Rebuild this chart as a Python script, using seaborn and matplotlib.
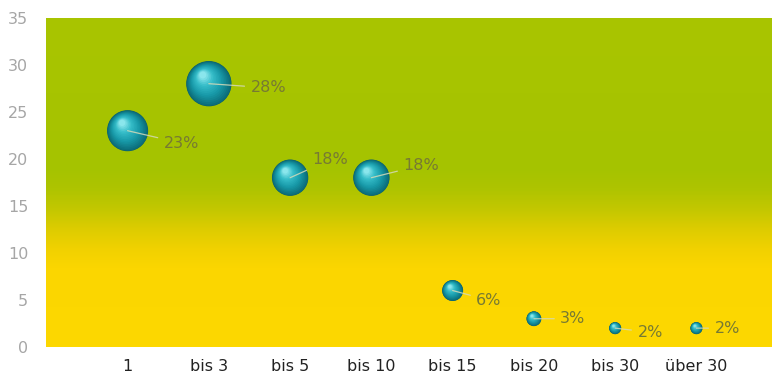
import numpy as np
import pandas as pd
import matplotlib
matplotlib.use("Agg")
import matplotlib.pyplot as plt
import seaborn as sns
from matplotlib.colors import LinearSegmentedColormap

# data
categories = ["1", "bis 3", "bis 5", "bis 10", "bis 15", "bis 20", "bis 30", "über 30"]
values = [23, 28, 18, 18, 6, 3, 2, 2]
labels = ["23%", "28%", "18%", "18%", "6%", "3%", "2%", "2%"]
y_ticks = [0, 5, 10, 15, 20, 25, 30, 35]

# label offsets in points (left edge of text, vertical centre) from each bubble
label_dx = [26, 30, 16, 23, 17, 19, 16, 13]
label_dy = [-9, -3, 13, 9, -7, 0, -3, 0]

df = pd.DataFrame({"category": categories, "value": values})

sns.set_style("white")
plt.rcParams["font.family"] = ["DejaVu Sans"]

fig, ax = plt.subplots(figsize=(7.72, 3.8), dpi=100)
fig.subplots_adjust(left=0.06, right=1.0, bottom=0.087, top=0.953)

xmin, xmax = -1.0, 7.93
ax.set_xlim(xmin, xmax)
ax.set_ylim(0, 35)

# green-to-yellow background gradient
bg_cmap = LinearSegmentedColormap.from_list("bg", [
    (0.0, "#fdd800"), (0.24, "#fbd600"), (0.3, "#f0d100"), (0.36, "#dccc00"),
    (0.42, "#c2c700"), (0.48, "#aec400"), (0.54, "#a5c300"), (1.0, "#a9c500")])
grad = np.linspace(0, 1, 256).reshape(-1, 1)
ax.imshow(grad, extent=(xmin, xmax, 0, 35), aspect="auto", cmap=bg_cmap,
          origin="lower", zorder=0)

# bubbles: area proportional to value
size_range = (76, 1064)
sns.scatterplot(data=df, x="category", y="value", size="value",
                sizes=size_range, size_norm=(2, 28), color="#0b5d68",
                edgecolor="none", linewidth=0, legend=False, ax=ax, zorder=3)

ax.set_xlim(xmin, xmax)
ax.set_ylim(0, 35)

# fake 3D shading with shrinking, lighter, shifted layers
sphere_cmap = LinearSegmentedColormap.from_list("sphere", [
    (0.0, "#0c6e7a"), (0.35, "#1899a8"), (0.7, "#35bcc8"), (1.0, "#8ae6ec")])
xs = np.arange(len(categories))
ys = np.array(values, dtype=float)
areas = size_range[0] + (ys - 2) / (28 - 2) * (size_range[1] - size_range[0])
radii_pt = np.sqrt(areas) / 2
centres = ax.transData.transform(np.column_stack([xs, ys]))
px_per_pt = fig.dpi / 72
n_layers = 16
for k in range(n_layers):
    f = 1 - k / n_layers * 0.9
    shift = (1 - f) * radii_pt * 0.45 * px_per_pt
    pts = centres + np.column_stack([-shift * 0.7, shift])
    dat = ax.transData.inverted().transform(pts)
    ax.scatter(dat[:, 0], dat[:, 1], s=areas * f * f * 0.96,
               color=sphere_cmap(k / (n_layers - 1)), linewidths=0, zorder=4)

# percentage labels with leader lines
for x, y, lab, dx, dy in zip(xs, ys, labels, label_dx, label_dy):
    ax.annotate(lab, xy=(x, y), xytext=(dx, dy), textcoords="offset points",
                ha="left", va="center", fontsize=11.5, color="#777a33",
                arrowprops=dict(arrowstyle="-", color="#d4dab8", lw=0.9,
                                alpha=0.85, shrinkA=2, shrinkB=0),
                zorder=6)

ax.set_yticks(y_ticks)
ax.tick_params(axis="y", length=0, pad=13, labelsize=11.5, labelcolor="#a6a6a6")
ax.tick_params(axis="x", length=0, pad=9, labelsize=11.5, labelcolor="#222222")
ax.set_xlabel("")
ax.set_ylabel("")
for s in ax.spines.values():
    s.set_visible(False)
ax.grid(False)

fig.savefig("out.png", dpi=100)
